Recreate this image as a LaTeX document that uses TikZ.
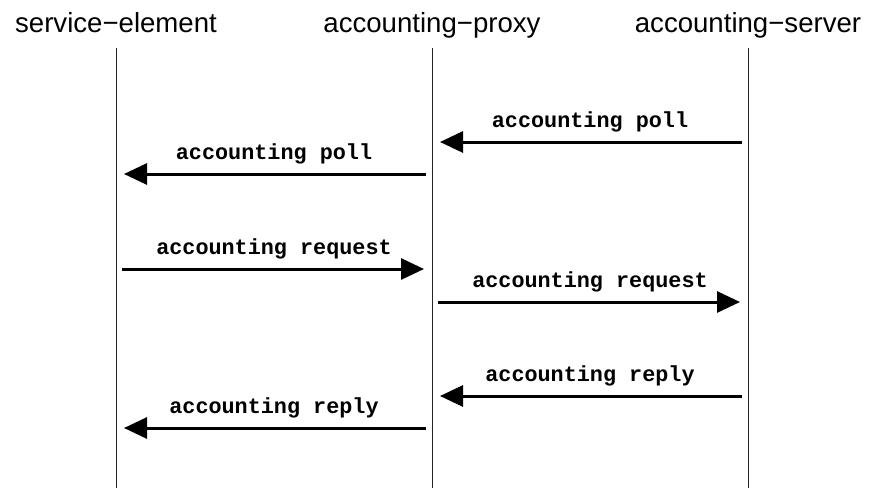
\documentclass[tikz,border=0pt]{standalone}
\usepackage{fontspec}
\setmainfont{Liberation Sans}
\newfontfamily\msgfont{Liberation Mono}
\usetikzlibrary{arrows.meta}
\begin{document}
\begin{tikzpicture}[x=1pt,y=-1pt,
  title/.style={anchor=base,inner sep=0pt,font=\fontsize{27.6}{30}\selectfont},
  life/.style={line width=1pt,draw=black!85},
  msg/.style={line width=3pt,-{Triangle[length=23pt,width=21pt]},shorten <=6pt,shorten >=8pt},
  lbl/.style={midway,anchor=base,yshift=15pt,inner sep=0pt,font=\msgfont\bfseries\fontsize{21.8}{24}\selectfont}]
\useasboundingbox (0,0) rectangle (870,488);
% titles
\node[title] (tse) at (116,32) {service−element};
\node[title] (tpr) at (432,32) {accounting−proxy};
\node[title] (tsv) at (748,32) {accounting−server};
% lifelines
\coordinate (se-t) at (116,48); \coordinate (se-b) at (116,488);
\coordinate (pr-t) at (432,48); \coordinate (pr-b) at (432,488);
\coordinate (sv-t) at (748,48); \coordinate (sv-b) at (748,488);
\draw[life] (se-t) -- (se-b);
\draw[life] (pr-t) -- (pr-b);
\draw[life] (sv-t) -- (sv-b);
% message anchor points
\coordinate (sv1) at (748,142); \coordinate (pr1) at (432,142);
\coordinate (pr2) at (432,174); \coordinate (se2) at (116,174);
\coordinate (se3) at (116,269); \coordinate (pr3) at (432,269);
\coordinate (pr4) at (432,302); \coordinate (sv4) at (748,302);
\coordinate (sv5) at (748,396); \coordinate (pr5) at (432,396);
\coordinate (pr6) at (432,428); \coordinate (se6) at (116,428);
% messages
\draw[msg] (sv1) -- node[lbl]{accounting poll} (pr1);
\draw[msg] (pr2) -- node[lbl]{accounting poll} (se2);
\draw[msg] (se3) -- node[lbl]{accounting request} (pr3);
\draw[msg] (pr4) -- node[lbl]{accounting request} (sv4);
\draw[msg] (sv5) -- node[lbl]{accounting reply} (pr5);
\draw[msg] (pr6) -- node[lbl]{accounting reply} (se6);
\end{tikzpicture}
\end{document}
